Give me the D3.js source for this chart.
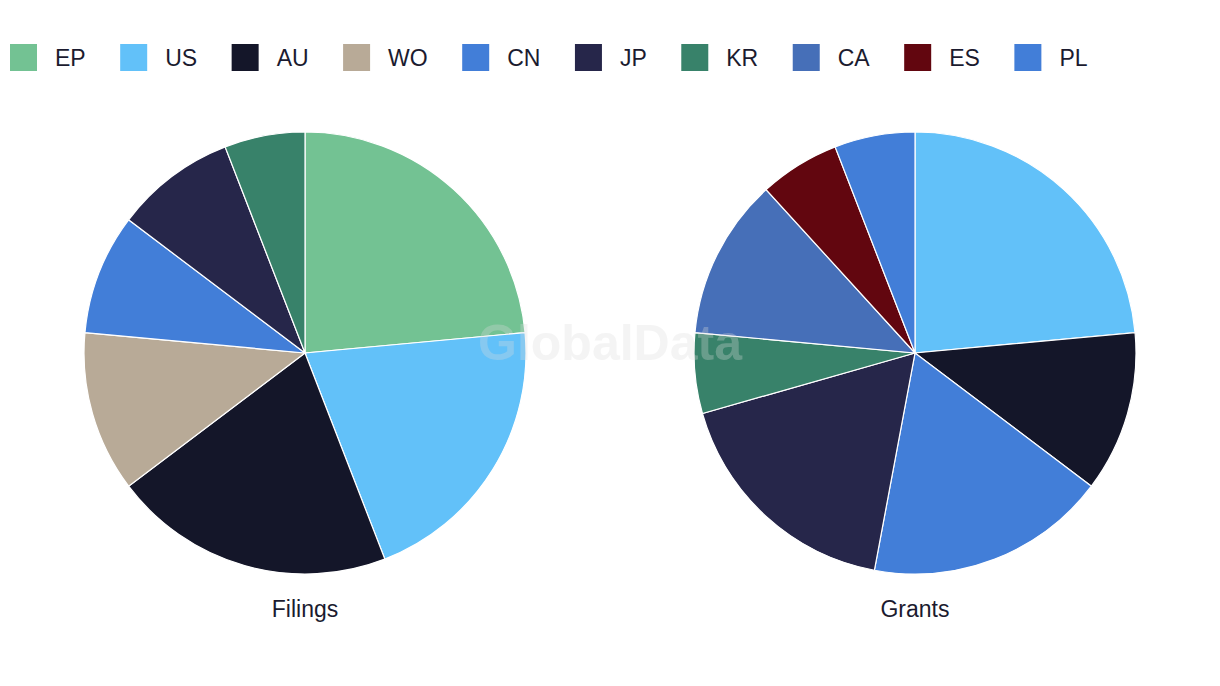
<!DOCTYPE html>
<html>
<head>
<meta charset="utf-8">
<script src="https://cdn.jsdelivr.net/npm/d3@7"></script>
<style>
  html, body { margin: 0; padding: 0; background: #fff; }
  svg { display: block; }
</style>
</head>
<body>
<svg id="chart" width="1220" height="686"></svg>
<script>
const categories = ["EP", "US", "AU", "WO", "CN", "JP", "KR", "CA", "ES", "PL"];
const colors = ["#73c293", "#62c1f9", "#141629", "#b8aa97", "#427ed8", "#26264a", "#38826a", "#466fb8", "#62060f", "#427ed8"];
const filingsValues = [8, 7, 7, 4, 3, 3, 2, 0, 0, 0];
const grantsValues  = [0, 8, 4, 0, 6, 6, 2, 4, 2, 2];
const pieTitles = ["Filings", "Grants"];

const svg = d3.select("#chart");
const font = "'Liberation Sans', Arial, sans-serif";
const textColor = "#1b1b2f";

const color = d3.scaleOrdinal().domain(categories).range(colors);

// Legend
const legend = svg.append("g");
let lx = 10;
categories.forEach(c => {
  const g = legend.append("g").attr("transform", `translate(${lx},0)`);
  g.append("rect").attr("x", 0).attr("y", 44).attr("width", 27).attr("height", 27).attr("fill", color(c));
  const t = g.append("text").attr("x", 45).attr("y", 66).attr("font-family", font)
    .attr("font-size", 23).attr("fill", textColor).text(c);
  const w = t.node().getComputedTextLength();
  lx += 45 + w + 34.5;
});

// Pies
const centers = [305, 915];
const cy = 353, r = 221;
const pie = d3.pie().sort(null).value(d => d.v);
const arc = d3.arc().innerRadius(0).outerRadius(r);

[filingsValues, grantsValues].forEach((vals, i) => {
  const data = categories.map((c, k) => ({c, v: vals[k]})).filter(d => d.v > 0);
  const g = svg.append("g").attr("transform", `translate(${centers[i]},${cy})`);
  g.selectAll("path").data(pie(data)).join("path")
    .attr("d", arc).attr("fill", d => color(d.data.c))
    .attr("stroke", "#fff").attr("stroke-width", 1.2);
  svg.append("text").attr("x", centers[i]).attr("y", 617).attr("text-anchor", "middle")
    .attr("font-family", font).attr("font-size", 23).attr("fill", textColor).text(pieTitles[i]);
});

// Watermark
svg.append("text").attr("x", 610).attr("y", 360).attr("text-anchor", "middle")
  .attr("font-family", font).attr("font-weight", "bold").attr("font-size", 50)
  .attr("fill", "#dcdcdc").attr("opacity", 0.3).text("GlobalData");
</script>
</body>
</html>
